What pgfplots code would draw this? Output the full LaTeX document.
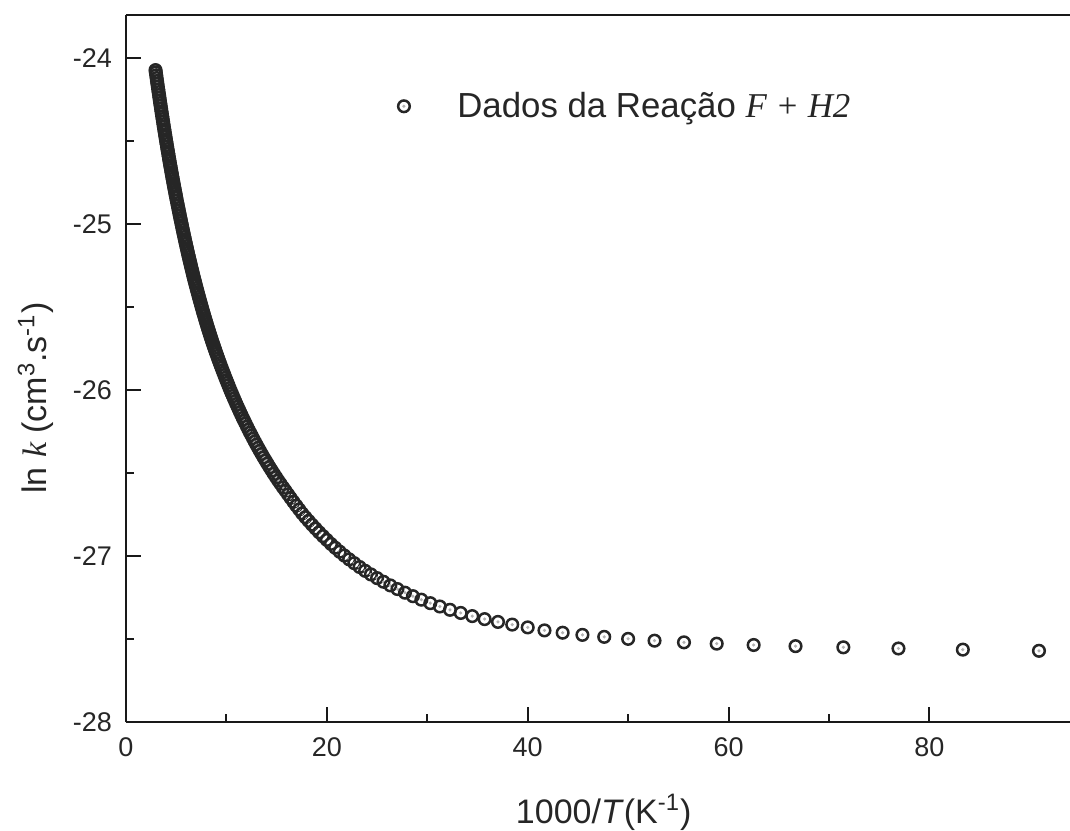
\documentclass[border=0pt]{standalone}
\usepackage{pgfplots}
\pgfplotsset{compat=1.18}
\usepackage{fontspec}
\setmainfont{Liberation Sans}
\newfontfamily\serif{Liberation Serif}
\pgfdeclareplotmark{odot}{%
  \pgfpathcircle{\pgfpointorigin}{\pgfplotmarksize}\pgfusepathqstroke
  \pgfpathcircle{\pgfpointorigin}{0.3\pgfplotmarksize}\pgfusepathqfill}
\begin{document}
\begin{tikzpicture}
\begin{axis}[
  at={(0,0)}, anchor=south west,
  scale only axis, width=472pt, height=353.5pt,
  xmin=0, xmax=94, ymin=-28, ymax=-23.74,
  axis x line=box, axis y line=left,
  y axis line style={-}, x axis line style={-},
  axis line style={line width=1.1pt, black!90},
  tick align=inside, xtick pos=bottom, ytick pos=left,
  xtick={0,20,40,60,80}, xticklabels={0,20,40,60,80},
  ytick={-28,-27,-26,-25,-24}, yticklabels={-28,-27,-26,-25,-24},
  minor x tick num=1, minor y tick num=1,
  major tick length=7.5pt, minor tick length=4.2pt,
  every tick/.style={line width=1pt, black!90},
  ticklabel style={font=\fontsize{13.5}{16}\selectfont, text=black!85},
  xticklabel style={yshift=-4.5pt},
  yticklabel style={xshift=-3.5pt},
  xlabel={1000/\textit{T}(K\textsuperscript{-1})},
  xlabel style={at={(axis description cs:0.506,0)}, anchor=base, yshift=-50.5pt, font=\fontsize{17}{20}\selectfont, text=black!85},
  ylabel={ln {\serif\itshape k} (cm\textsuperscript{3}.s\textsuperscript{-1})},
  ylabel style={at={(axis description cs:-0.0837,0.458)}, anchor=base, font=\fontsize{17}{20}\selectfont, text=black!85},
  legend style={at={(axis cs:27.0,-24.29)}, anchor=west, draw=none, fill=none,
    font=\fontsize{17.4}{21}\selectfont, inner sep=0pt, text=black!85},
  legend image code/.code={\draw[#1] plot coordinates {(0pt,0pt)}; \path (-3pt,0pt) (24.5pt,0pt);},
]
\addplot[only marks, mark=odot, mark size=2.9pt, mark options={draw=black!85, fill=gray!60, line width=1.25pt}] table {
x y
2.94 -24.072
2.97 -24.086
3.01 -24.103
3.05 -24.120
3.09 -24.138
3.13 -24.155
3.17 -24.172
3.21 -24.189
3.25 -24.205
3.29 -24.222
3.33 -24.239
3.37 -24.255
3.41 -24.271
3.45 -24.287
3.49 -24.303
3.53 -24.320
3.57 -24.335
3.61 -24.351
3.65 -24.367
3.69 -24.382
3.73 -24.398
3.77 -24.413
3.81 -24.429
3.85 -24.444
3.89 -24.459
3.93 -24.474
3.97 -24.489
4.01 -24.504
4.05 -24.518
4.09 -24.533
4.13 -24.548
4.17 -24.562
4.21 -24.576
4.25 -24.591
4.29 -24.605
4.33 -24.619
4.37 -24.633
4.41 -24.647
4.45 -24.660
4.49 -24.674
4.53 -24.688
4.57 -24.701
4.61 -24.715
4.65 -24.728
4.69 -24.741
4.73 -24.754
4.77 -24.767
4.81 -24.780
4.85 -24.793
4.89 -24.806
4.93 -24.818
4.97 -24.831
5.01 -24.843
5.06 -24.859
5.11 -24.874
5.16 -24.889
5.21 -24.904
5.26 -24.919
5.31 -24.934
5.36 -24.949
5.41 -24.964
5.46 -24.978
5.51 -24.993
5.56 -25.007
5.61 -25.022
5.66 -25.036
5.71 -25.050
5.76 -25.064
5.81 -25.078
5.86 -25.092
5.91 -25.106
5.96 -25.119
6.01 -25.133
6.06 -25.146
6.11 -25.160
6.16 -25.173
6.21 -25.186
6.26 -25.199
6.31 -25.212
6.36 -25.225
6.41 -25.237
6.46 -25.250
6.51 -25.263
6.56 -25.275
6.61 -25.287
6.66 -25.300
6.71 -25.312
6.76 -25.324
6.81 -25.336
6.86 -25.347
6.91 -25.359
6.96 -25.371
7.02 -25.385
7.08 -25.398
7.14 -25.412
7.20 -25.425
7.26 -25.439
7.32 -25.452
7.38 -25.465
7.44 -25.478
7.50 -25.491
7.56 -25.504
7.62 -25.517
7.68 -25.530
7.74 -25.542
7.80 -25.554
7.86 -25.567
7.92 -25.579
7.98 -25.591
8.04 -25.603
8.10 -25.615
8.16 -25.627
8.22 -25.638
8.28 -25.650
8.34 -25.661
8.40 -25.673
8.46 -25.684
8.52 -25.695
8.58 -25.706
8.64 -25.717
8.70 -25.728
8.76 -25.738
8.82 -25.749
8.88 -25.759
8.94 -25.770
9.01 -25.782
9.09 -25.795
9.17 -25.809
9.26 -25.824
9.35 -25.838
9.43 -25.852
9.52 -25.866
9.62 -25.882
9.71 -25.896
9.80 -25.910
9.90 -25.926
10.00 -25.941
10.10 -25.956
10.20 -25.971
10.31 -25.988
10.42 -26.004
10.53 -26.020
10.64 -26.035
10.75 -26.051
10.87 -26.067
10.99 -26.084
11.11 -26.100
11.24 -26.117
11.36 -26.133
11.49 -26.150
11.63 -26.168
11.76 -26.184
11.90 -26.201
12.05 -26.220
12.20 -26.238
12.35 -26.256
12.50 -26.273
12.66 -26.292
12.82 -26.310
12.99 -26.329
13.16 -26.348
13.33 -26.366
13.51 -26.385
13.70 -26.405
13.89 -26.424
14.08 -26.443
14.29 -26.464
14.49 -26.483
14.71 -26.504
14.93 -26.524
15.15 -26.544
15.38 -26.564
15.63 -26.586
15.87 -26.606
16.13 -26.628
16.39 -26.650
16.67 -26.673
16.95 -26.696
17.24 -26.719
17.54 -26.743
17.86 -26.766
18.18 -26.788
18.52 -26.811
18.87 -26.834
19.23 -26.857
19.61 -26.880
20.00 -26.903
20.41 -26.927
20.83 -26.950
21.28 -26.974
21.74 -26.997
22.22 -27.020
22.73 -27.043
23.26 -27.066
23.81 -27.089
24.39 -27.111
25.00 -27.133
25.64 -27.155
26.32 -27.177
27.03 -27.199
27.78 -27.221
28.57 -27.242
29.41 -27.263
30.30 -27.284
31.25 -27.304
32.26 -27.324
33.33 -27.343
34.48 -27.362
35.71 -27.380
37.04 -27.397
38.46 -27.413
40.00 -27.430
41.67 -27.448
43.48 -27.462
45.45 -27.475
47.62 -27.487
50.00 -27.499
52.63 -27.510
55.56 -27.520
58.82 -27.528
62.50 -27.536
66.67 -27.543
71.43 -27.550
76.92 -27.557
83.33 -27.564
90.91 -27.571
};
\addlegendentry{Dados da Reação {\serif\itshape F + H2}}
\end{axis}
\pgfresetboundingbox
\path (-63pt,-54pt) rectangle (472pt,361pt);
\end{tikzpicture}
\end{document}
